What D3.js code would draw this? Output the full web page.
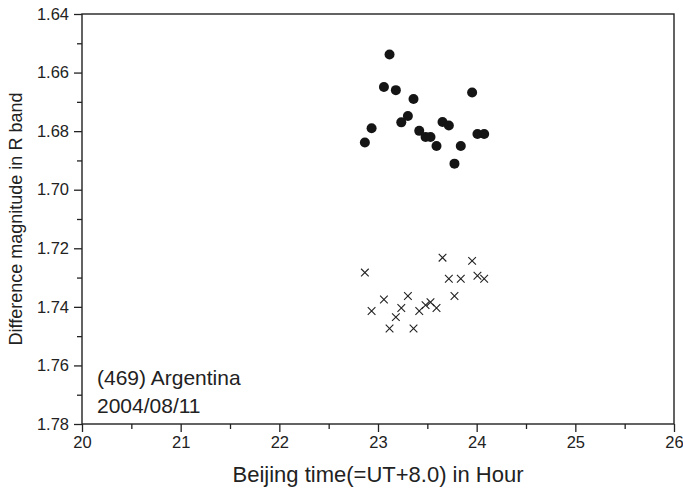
<!DOCTYPE html>
<html>
<head>
<meta charset="utf-8">
<script src="https://cdn.jsdelivr.net/npm/d3@7"></script>
<style>
  body { margin: 0; background: #fff; }
  svg text { font-family: "Liberation Sans", Arial, sans-serif; fill: #222; }
</style>
</head>
<body>
<svg id="chart" width="683" height="493"></svg>
<script>
'use strict';

// Beijing time (hours), shared by both series
const times = [22.867, 22.935, 23.060, 23.117, 23.181, 23.236, 23.303, 23.360, 23.418, 23.482,
  23.532, 23.593, 23.654, 23.718, 23.775, 23.839, 23.954, 24.008, 24.076];
// filled circles
const magCircle = [1.6839, 1.6790, 1.6649, 1.6538, 1.6660, 1.6770, 1.6748, 1.6690, 1.6799, 1.6820,
  1.6820, 1.6851, 1.6769, 1.6781, 1.6911, 1.6851, 1.6668, 1.6810, 1.6810];
// crosses
const magCross = [1.7283, 1.7414, 1.7375, 1.7474, 1.7435, 1.7404, 1.7363, 1.7474, 1.7414, 1.7394,
  1.7384, 1.7404, 1.7232, 1.7304, 1.7363, 1.7304, 1.7243, 1.7294, 1.7304];

const xTicks = [20, 21, 22, 23, 24, 25, 26];
const yTicks = [1.64, 1.66, 1.68, 1.70, 1.72, 1.74, 1.76, 1.78];
const annotation = ['(469) Argentina', '2004/08/11'];

let margin = {left: 82, right: 9, top: 14, bottom: 69};
let width = 683 - margin.left - margin.right;
let height = 493 - margin.top - margin.bottom;

let svg = d3.select('#chart');
let g = svg.append('g')
  .attr('transform', 'translate(' + margin.left + ',' + margin.top + ')');

let x = d3.scaleLinear().domain([20, 26]).range([0, width]);
let y = d3.scaleLinear().domain([1.64, 1.78]).range([0, height]);

// minor ticks first, then major with labels
g.append('g')
  .attr('transform', 'translate(0,' + height + ')')
  .call(d3.axisBottom(x).tickValues(d3.range(20.5, 26, 1)).tickSize(5).tickFormat(''));
g.append('g')
  .attr('transform', 'translate(0,' + height + ')')
  .call(d3.axisBottom(x).tickValues(xTicks).tickSize(8).tickPadding(4).tickFormat(d3.format('d')));

g.append('g')
  .call(d3.axisLeft(y).tickValues(d3.range(1.65, 1.78, 0.02)).tickSize(5).tickFormat(''));
g.append('g')
  .call(d3.axisLeft(y).tickValues(yTicks).tickSize(8).tickPadding(5).tickFormat(d3.format('.2f')));

g.selectAll('.domain').remove();
g.selectAll('.tick line').attr('stroke', '#222').attr('stroke-width', 1.3);
g.selectAll('.tick text').attr('font-size', 16.5).attr('fill', '#222');

// frame
g.append('rect')
  .attr('width', width)
  .attr('height', height)
  .attr('fill', 'none')
  .attr('stroke', '#222')
  .attr('stroke-width', 1.4);

g.selectAll('.dot')
  .data(times.map(function(t, i) { return [t, magCircle[i]]; }))
  .enter()
  .append('circle')
  .attr('cx', function(d) { return x(d[0]); })
  .attr('cy', function(d) { return y(d[1]); })
  .attr('r', 5)
  .attr('fill', '#151515');

let cross = d3.symbol().type(d3.symbolX).size(40);
g.selectAll('.cross')
  .data(times.map(function(t, i) { return [t, magCross[i]]; }))
  .enter()
  .append('path')
  .attr('d', cross)
  .attr('transform', function(d) { return 'translate(' + x(d[0]) + ',' + y(d[1]) + ')'; })
  .attr('fill', 'none')
  .attr('stroke', '#222')
  .attr('stroke-width', 1.1);

g.selectAll('.note')
  .data(annotation)
  .enter()
  .append('text')
  .attr('x', 15)
  .attr('y', function(d, i) { return 371 + i * 28; })
  .attr('font-size', 21)
  .text(function(d) { return d; });

svg.append('text')
  .attr('x', margin.left + width / 2)
  .attr('y', 482)
  .attr('text-anchor', 'middle')
  .attr('font-size', 22)
  .text('Beijing time(=UT+8.0) in Hour');

svg.append('text')
  .attr('transform', 'translate(22,' + (margin.top + height / 2) + ') rotate(-90)')
  .attr('text-anchor', 'middle')
  .attr('font-size', 18)
  .text('Difference magnitude in R band');
</script>
</body>
</html>
